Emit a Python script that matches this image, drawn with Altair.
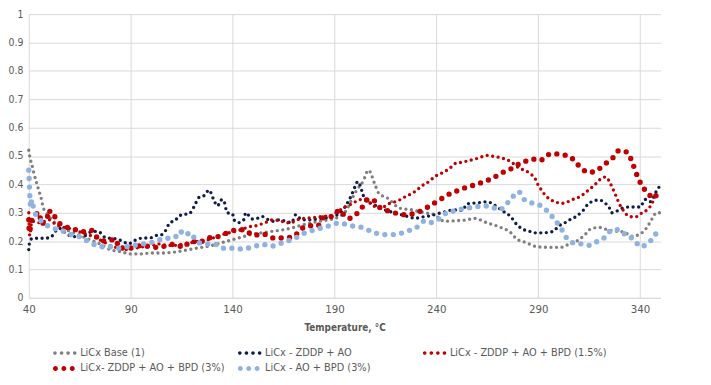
import altair as alt
import pandas as pd

# ---------------- data ----------------
series_names = [
    "LiCx Base (1)",
    "LiCx - ZDDP + AO",
    "LiCx - ZDDP + AO + BPD (1.5%)",
    "LiCx- ZDDP + AO + BPD (3%)",
    "LiCx - AO + BPD (3%)",
]
series_colors = ["#7f7f7f", "#0f1c48", "#c00000", "#c00000", "#8fb2de"]

base_t = [40, 40.7, 41.5, 42.5, 45.3, 46.3, 47, 48.7, 52, 56, 60, 65, 70, 75, 80, 85, 90, 95,
          100, 105, 110, 115, 120, 125, 130, 135, 140, 145, 150, 155, 160, 165, 170, 175, 181,
          187, 192, 196, 199, 201, 204, 206.7, 210, 211.6, 216.4, 222, 228, 234, 239, 244, 250,
          255, 258.6, 265, 271.7, 276.5, 279, 284, 289.6, 295, 301, 304.7, 310, 313, 316, 320,
          324, 328, 332, 336, 340, 343, 346, 348, 350]
base_v = [0.52, 0.49, 0.47, 0.44, 0.37, 0.345, 0.32, 0.30, 0.27, 0.25, 0.235, 0.22, 0.205, 0.19,
          0.17, 0.163, 0.155, 0.155, 0.158, 0.158, 0.16, 0.165, 0.172, 0.178, 0.185, 0.195, 0.205,
          0.215, 0.225, 0.23, 0.235, 0.24, 0.248, 0.258, 0.268, 0.275, 0.285, 0.31, 0.355, 0.38,
          0.41, 0.45, 0.397, 0.37, 0.35, 0.316, 0.31, 0.30, 0.293, 0.27, 0.272, 0.275, 0.28,
          0.264, 0.248, 0.23, 0.21, 0.195, 0.18, 0.178, 0.178, 0.188, 0.205, 0.223, 0.244, 0.248,
          0.24, 0.235, 0.232, 0.217, 0.225, 0.245, 0.28, 0.30, 0.30]

zddp_t = [40, 40.5, 42, 45, 48, 51, 53, 55, 57, 60, 64, 68, 71, 74, 77.7, 82.5, 86, 89, 91.4, 95,
          100, 102.7, 105, 107.4, 109, 111.8, 113.5, 115.6, 117.5, 119, 121, 123.7, 126, 128.5,
          130.5, 132.6, 134.5, 135.5, 137.4, 140, 140.7, 143, 145.5, 146.5, 149.6, 152, 154.4,
          156.8, 160, 163, 166, 169, 171, 174, 178, 183, 188, 193, 196, 198, 200, 201.5, 203.7,
          205, 209, 212.6, 217.4, 223, 230, 233, 236.8, 242.5, 249, 252.8, 255, 258.6, 261.8,
          265, 268.3, 273, 276.4, 279.5, 283, 286, 288.5, 291.6, 297.4, 299.8, 303, 305.4, 308.6,
          312, 315, 320, 322.4, 325, 326, 328, 331.3, 334.5, 337.6, 340, 342.5, 345, 348.3, 350]
zddp_v = [0.17, 0.20, 0.21, 0.21, 0.21, 0.215, 0.234, 0.245, 0.235, 0.22, 0.215, 0.22, 0.234,
          0.234, 0.212, 0.208, 0.20, 0.19, 0.20, 0.21, 0.212, 0.22, 0.222, 0.24, 0.263, 0.273,
          0.285, 0.295, 0.295, 0.298, 0.32, 0.355, 0.36, 0.38, 0.35, 0.324, 0.345, 0.345, 0.30,
          0.296, 0.275, 0.265, 0.275, 0.30, 0.278, 0.28, 0.287, 0.278, 0.27, 0.275, 0.27, 0.265,
          0.293, 0.275, 0.275, 0.28, 0.285, 0.30, 0.33, 0.356, 0.39, 0.41, 0.372, 0.345, 0.33,
          0.316, 0.304, 0.293, 0.281, 0.285, 0.289, 0.30, 0.31, 0.308, 0.331, 0.334, 0.336, 0.339,
          0.328, 0.304, 0.287, 0.258, 0.24, 0.234, 0.229, 0.229, 0.234, 0.252, 0.264, 0.275,
          0.287, 0.308, 0.334, 0.345, 0.336, 0.316, 0.30, 0.304, 0.316, 0.32, 0.32, 0.32, 0.347,
          0.339, 0.38, 0.397]

bpd15_t = [40, 40.5, 41.5, 45, 48, 50, 53, 56, 60, 64, 68, 72, 76, 80, 84, 88, 92, 96, 100, 104,
           108, 112, 116, 120, 124, 128, 132, 136, 140, 144, 148, 152, 156, 160, 164, 168, 173,
           178.6, 184, 188, 191.6, 195, 199, 202, 205, 208.5, 211.7, 214, 217.4, 220, 222.5,
           224.7, 228, 230, 232.8, 236.8, 239, 242.5, 245, 247.3, 249.7, 252.8, 256, 259.4, 261.8,
           265, 268.3, 271.5, 274.6, 277, 278.8, 281.2, 283.6, 286, 288.5, 290, 291.6, 293.4,
           295.8, 298.2, 301.3, 304.6, 307, 310.3, 312.7, 315, 317.6, 320, 323, 325, 326.5, 328,
           329.7, 332.2, 334.6, 337.6, 341, 343.4, 345.9, 347.3, 349]
bpd15_v = [0.30, 0.22, 0.27, 0.265, 0.27, 0.275, 0.26, 0.25, 0.245, 0.235, 0.225, 0.215, 0.20,
           0.185, 0.175, 0.17, 0.175, 0.18, 0.185, 0.19, 0.185, 0.185, 0.19, 0.195, 0.20, 0.205,
           0.215, 0.225, 0.232, 0.24, 0.25, 0.255, 0.265, 0.275, 0.27, 0.264, 0.278, 0.282, 0.287,
           0.29, 0.304, 0.32, 0.333, 0.345, 0.348, 0.328, 0.316, 0.32, 0.334, 0.339, 0.347, 0.356,
           0.368, 0.377, 0.394, 0.412, 0.426, 0.439, 0.449, 0.461, 0.475, 0.478, 0.484, 0.49,
           0.496, 0.502, 0.498, 0.494, 0.487, 0.478, 0.467, 0.455, 0.449, 0.438, 0.42, 0.397,
           0.38, 0.362, 0.347, 0.339, 0.333, 0.339, 0.347, 0.356, 0.368, 0.382, 0.397, 0.415,
           0.426, 0.409, 0.386, 0.362, 0.333, 0.304, 0.287, 0.285, 0.30, 0.31, 0.333, 0.356, 0.368]

bpd3_t = [40, 40.3, 41.3, 45.3, 46, 48, 49, 50, 51, 52.6, 54, 57, 60, 63, 66.8, 71, 74.4, 78,
          81.7, 83, 84, 88, 91.4, 95, 100, 104, 107.4, 110.8, 114.3, 115.6, 119.5, 123.7, 126.8,
          133.4, 137.4, 142.3, 146, 150, 155, 160, 165, 170.4, 173, 178.6, 181.9, 184.3, 187.4,
          190, 192.3, 194.6, 197, 201.3, 203.7, 206, 208.5, 211.6, 215, 219.8, 224.7, 230, 233.9,
          236.3, 242, 247, 251.3, 255.2, 260, 264, 267.4, 271.3, 276, 279.3, 283.3, 287.2, 291,
          294.2, 297.4, 301.4, 305.5, 308.7, 311.7, 315, 319.5, 323, 326.7, 329.6, 333.7, 335.8,
          337.4, 339, 341, 344, 346.7, 348.3]
bpd3_v = [0.275, 0.23, 0.27, 0.30, 0.26, 0.27, 0.28, 0.31, 0.29, 0.287, 0.27, 0.255, 0.245, 0.24,
          0.233, 0.238, 0.205, 0.20, 0.205, 0.205, 0.177, 0.175, 0.177, 0.184, 0.18, 0.177, 0.184,
          0.188, 0.182, 0.177, 0.20, 0.195, 0.208, 0.217, 0.229, 0.24, 0.24, 0.22, 0.225, 0.211,
          0.211, 0.217, 0.24, 0.254, 0.254, 0.282, 0.285, 0.29, 0.31, 0.293, 0.28, 0.299, 0.32,
          0.345, 0.348, 0.322, 0.31, 0.299, 0.293, 0.299, 0.312, 0.322, 0.347, 0.368, 0.38, 0.391,
          0.40, 0.412, 0.42, 0.438, 0.452, 0.467, 0.48, 0.489, 0.484, 0.502, 0.508, 0.505, 0.498,
          0.475, 0.453, 0.442, 0.453, 0.473, 0.494, 0.519, 0.513, 0.484, 0.453, 0.423, 0.394,
          0.368, 0.351, 0.368]

aobpd_t = [40, 40.2, 40.4, 40.6, 41, 41.5, 42.5, 45, 48, 52, 55, 60, 65, 70, 73, 76, 80, 84, 88,
           92, 96, 100, 103, 106, 109, 112, 114, 117, 119, 123, 128, 131, 135, 140, 145, 150, 155,
           159, 165, 170, 176.2, 179.5, 181.9, 187.5, 192.4, 198, 200.4, 203.7, 209, 214.6, 219.8,
           225, 230.3, 234, 236.8, 239.7, 242.5, 245, 247.3, 250.5, 254.6, 258.6, 262.6, 266.7,
           270.7, 274.5, 277.2, 280.4, 282.9, 286.1, 289.4, 293, 295.8, 298.7, 301.4, 303.5, 307,
           311.2, 315.2, 319.2, 323, 326.2, 329.7, 333.3, 337, 340.2, 344, 347, 349]
aobpd_v = [0.45, 0.42, 0.38, 0.35, 0.32, 0.345, 0.31, 0.28, 0.26, 0.245, 0.24, 0.225, 0.215,
           0.195, 0.185, 0.18, 0.18, 0.175, 0.18, 0.185, 0.19, 0.195, 0.20, 0.21, 0.21, 0.215,
           0.235, 0.22, 0.23, 0.195, 0.19, 0.19, 0.175, 0.175, 0.172, 0.18, 0.188, 0.182, 0.196,
           0.208, 0.231, 0.238, 0.243, 0.254, 0.264, 0.254, 0.252, 0.248, 0.231, 0.223, 0.223,
           0.234, 0.248, 0.27, 0.264, 0.275, 0.281, 0.30, 0.304, 0.31, 0.316, 0.32, 0.324, 0.322,
           0.31, 0.331, 0.354, 0.374, 0.348, 0.336, 0.331, 0.316, 0.295, 0.27, 0.243, 0.215,
           0.194, 0.19, 0.185, 0.20, 0.215, 0.24, 0.24, 0.219, 0.206, 0.18, 0.194, 0.217, 0.243]

x_ticks = [40, 90, 140, 190, 240, 290, 340]
y_ticks = [0, 0.1, 0.2, 0.3, 0.4, 0.5, 0.6, 0.7, 0.8, 0.9, 1]

series_t = [base_t, zddp_t, bpd15_t, bpd3_t, aobpd_t]
series_v = [base_v, zddp_v, bpd15_v, bpd3_v, aobpd_v]

rows = []
for name, ts, vs in zip(series_names, series_t, series_v):
    for t, v in zip(ts, vs):
        rows.append({"series": name, "temp": t, "cof": v})
df = pd.DataFrame(rows)

# ---------------- styling ----------------
FONT = "DejaVu Sans Condensed, Liberation Sans Narrow, Arial, sans-serif"
TXT = "#595959"
GRID = "#d9d9d9"

# dot styles: (stroke width, gap)
dot_style = [(3.4, 5.6), (3.4, 5.6), (3.4, 5.6), (5.4, 8.5), (5.4, 8.5)]


def dots_path(centers, r):
    parts = []
    for cx in centers:
        parts.append(f"M{cx - r:.3f},0a{r},{r} 0 1,0 {2 * r:.3f},0a{r},{r} 0 1,0 {-2 * r:.3f},0Z")
    return " ".join(parts)


# legend symbol size 100 -> 5 px per path unit
small_dots = dots_path([-0.6, 0.74, 2.06, 3.4], 0.36)
big_dots = dots_path([-0.5, 1.2, 2.9], 0.5)
legend_shapes = [small_dots, small_dots, small_dots, big_dots, big_dots]

x_enc = alt.X(
    "temp:Q",
    scale=alt.Scale(domain=[40, 350], nice=False, zero=False),
    axis=alt.Axis(
        values=x_ticks, title="Temperature, °C", grid=True, gridColor=GRID, ticks=False,
        domain=True, domainColor=GRID, labelPadding=6, labelFont=FONT, labelFontSize=11.5,
        labelColor=TXT, titleFont=FONT, titleFontSize=10, titleColor=TXT, titleFontWeight="bold",
        titleY=30, titleBaseline="middle", labelFlush=False,
    ),
)
y_enc = alt.Y(
    "cof:Q",
    scale=alt.Scale(domain=[0, 1], nice=False),
    axis=alt.Axis(
        values=y_ticks, format="~g", title=None, grid=True, gridColor=GRID, ticks=False,
        domain=False, labelPadding=6, labelFont=FONT, labelFontSize=10.5, labelColor=TXT,
    ),
)

layers = []
for name, col, (w, gap) in zip(series_names, series_colors, dot_style):
    layers.append(
        alt.Chart(df)
        .transform_filter(alt.datum.series == name)
        .mark_line(color=col, strokeWidth=w, strokeDash=[0, gap], strokeCap="round",
                   interpolate="monotone")
        .encode(x=x_enc, y=y_enc)
    )

legend_props = dict(
    title=None, orient="none", legendX=24, legendY=337, columns=3, direction="horizontal",
    gridAlign="all", symbolSize=100, labelFont=FONT, labelFontSize=11, labelColor=TXT,
    labelOffset=17, columnPadding=0, rowPadding=4, padding=0, symbolStrokeWidth=0,
    labelLimit=300,
)
legend_layer = (
    alt.Chart(df)
    .transform_filter("false")
    .mark_point(filled=True, size=100, opacity=1)
    .encode(
        color=alt.Color("series:N", scale=alt.Scale(domain=series_names, range=series_colors),
                        legend=alt.Legend(**legend_props)),
        shape=alt.Shape("series:N", scale=alt.Scale(domain=series_names, range=legend_shapes),
                        legend=alt.Legend(**legend_props)),
    )
)

chart = (
    alt.layer(*layers, legend_layer)
    .properties(
        width=639, height=287,
        autosize=alt.AutoSizeParams(type="none"),
        padding={"left": 21, "top": 4, "right": 43, "bottom": 86},
        background="white",
    )
    .configure_view(strokeWidth=0)
)

chart.save("out.html", embed_options={"renderer": "svg", "actions": False})
